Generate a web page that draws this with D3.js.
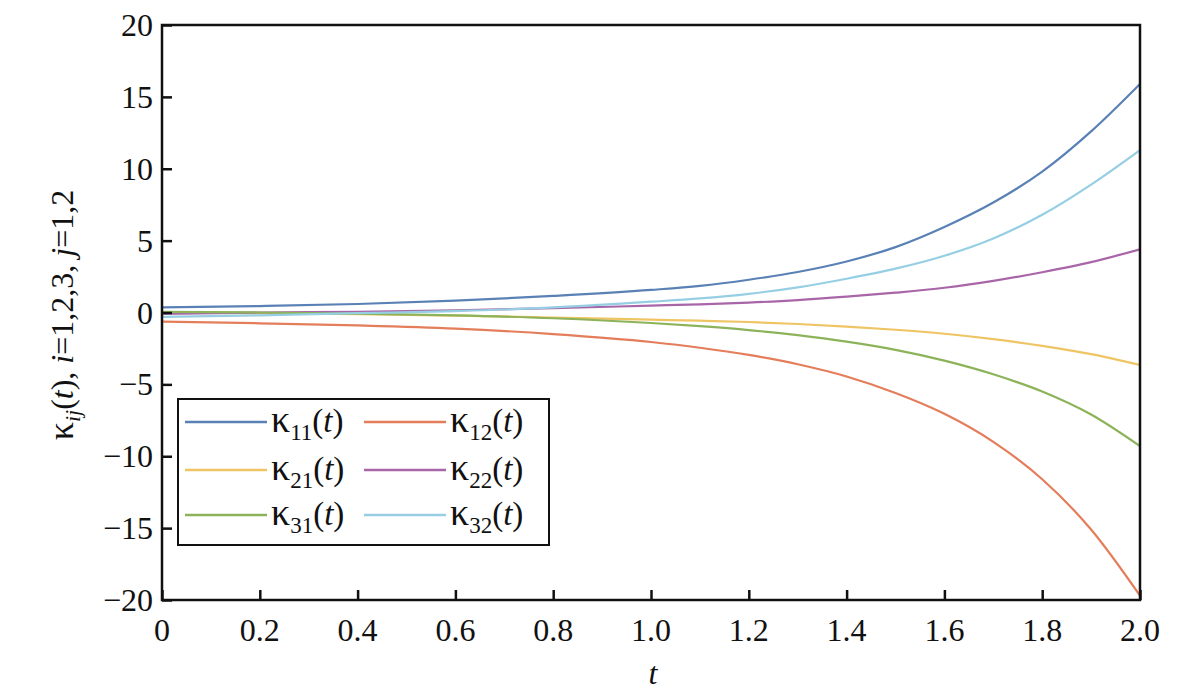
<html>
<head>
<meta charset="utf-8">
<script src="https://d3js.org/d3.v7.min.js"></script>
<style>
  body { margin: 0; background: #fff; }
</style>
</head>
<body>
<svg id="chart" width="1200" height="690"></svg>
<script>
// data
const tValues = [0, 0.2, 0.4, 0.6, 0.8, 1.0, 1.1, 1.2, 1.3, 1.4, 1.5, 1.6, 1.7, 1.8, 1.9, 2.0];
const k11 = [0.35, 0.45, 0.59, 0.82, 1.15, 1.57, 1.85, 2.28, 2.82, 3.55, 4.55, 5.95, 7.65, 9.8, 12.6, 15.9];
const k12 = [-0.64, -0.75, -0.9, -1.12, -1.5, -2.05, -2.45, -2.95, -3.6, -4.45, -5.6, -7.05, -9.0, -11.6, -15.1, -19.7];
const k21 = [0.0, -0.05, -0.12, -0.22, -0.35, -0.5, -0.57, -0.66, -0.8, -0.98, -1.2, -1.48, -1.85, -2.32, -2.9, -3.65];
const k22 = [-0.1, 0.0, 0.05, 0.15, 0.3, 0.48, 0.57, 0.69, 0.86, 1.1, 1.38, 1.72, 2.2, 2.8, 3.5, 4.4];
const k31 = [0.05, 0.0, -0.08, -0.2, -0.4, -0.73, -0.95, -1.22, -1.58, -2.03, -2.6, -3.35, -4.3, -5.5, -7.1, -9.3];
const k32 = [-0.3, -0.2, -0.05, 0.1, 0.35, 0.75, 0.98, 1.3, 1.75, 2.35, 3.05, 3.95, 5.15, 6.8, 8.9, 11.3];

const seriesNames = ["11", "12", "21", "22", "31", "32"];
const seriesColors = ["#5a81b5", "#e47d5a", "#efc463", "#a866a8", "#8db35a", "#96cfe3"];
const xTicks = [0, 0.2, 0.4, 0.6, 0.8, 1.0, 1.2, 1.4, 1.6, 1.8, 2.0];
const yTicks = [-20, -15, -10, -5, 0, 5, 10, 15, 20];

const allSeries = [k11, k12, k21, k22, k31, k32];

const serif = "'Liberation Serif', 'Times New Roman', Times, 'DejaVu Serif', serif";
const svg = d3.select("#chart")
  .attr("font-family", serif)
  .style("font-family", serif);
const plotLeft = 162, plotRight = 1140, plotTop = 25, plotBottom = 600;

const x = d3.scaleLinear().domain([0, 2]).range([plotLeft, plotRight]);
const y = d3.scaleLinear().domain([-20, 20]).range([plotBottom, plotTop]);

// curves
const line = d3.line()
  .x((d, i) => x(tValues[i]))
  .y(d => y(d))
  .curve(d3.curveMonotoneX);

const plot = svg.append("g");
plot.append("clipPath").attr("id", "clip")
  .append("rect").attr("x", plotLeft).attr("y", plotTop)
  .attr("width", plotRight - plotLeft).attr("height", plotBottom - plotTop);

allSeries.forEach((s, i) => {
  plot.append("path")
    .datum(s)
    .attr("clip-path", "url(#clip)")
    .attr("fill", "none")
    .attr("stroke", seriesColors[i])
    .attr("stroke-width", 2.2)
    .attr("d", line);
});

// axes (ticks pointing inward)
const xAxis = d3.axisTop(x).tickValues(xTicks).tickSize(10).tickFormat("");
svg.append("g")
  .attr("transform", `translate(0,${plotBottom})`)
  .call(xAxis)
  .call(g => g.select(".domain").remove())
  .call(g => g.selectAll("line").attr("stroke", "#111").attr("stroke-width", 2.5));

const yAxis = d3.axisRight(y).tickValues(yTicks).tickSize(10).tickFormat("");
svg.append("g")
  .attr("transform", `translate(${plotLeft},0)`)
  .call(yAxis)
  .call(g => g.select(".domain").remove())
  .call(g => g.selectAll("line").attr("stroke", "#111").attr("stroke-width", 2.5));

// frame
svg.append("rect")
  .attr("x", plotLeft).attr("y", plotTop)
  .attr("width", plotRight - plotLeft).attr("height", plotBottom - plotTop)
  .attr("fill", "none").attr("stroke", "#111").attr("stroke-width", 2.5);

// tick labels
svg.append("g").selectAll("text")
  .data(xTicks)
  .join("text")
  .attr("x", d => x(d))
  .attr("y", 641)
  .attr("text-anchor", "middle")
  .attr("font-size", 32)
  .attr("fill", "#111")
  .text(d => d === 0 ? "0" : d.toFixed(1));

svg.append("g").selectAll("text")
  .data(yTicks)
  .join("text")
  .attr("x", 153)
  .attr("y", d => y(d) + 11)
  .attr("text-anchor", "end")
  .attr("font-size", 32)
  .attr("fill", "#111")
  .text(d => d < 0 ? "\u2212" + Math.abs(d) : d);

// axis titles
svg.append("text")
  .attr("x", 653).attr("y", 684)
  .attr("text-anchor", "middle")
  .attr("font-size", 32)
  .attr("font-style", "italic")
  .attr("fill", "#111")
  .text("t");

const yTitle = svg.append("text")
  .attr("transform", "translate(73,315) rotate(-90)")
  .attr("text-anchor", "middle")
  .attr("font-size", 32)
  .attr("fill", "#111");
yTitle.append("tspan").attr("font-size", 36).text("\u03ba");
yTitle.append("tspan").attr("font-style", "italic").attr("font-size", 22).attr("dy", 7).text("ij");
yTitle.append("tspan").attr("dy", -7).text("(");
yTitle.append("tspan").attr("font-style", "italic").text("t");
yTitle.append("tspan").text("), ");
yTitle.append("tspan").attr("font-style", "italic").text("i");
yTitle.append("tspan").text("=1,2,3, ");
yTitle.append("tspan").attr("font-style", "italic").text("j");
yTitle.append("tspan").text("=1,2");

// legend
const legend = svg.append("g");
legend.append("rect")
  .attr("x", 178).attr("y", 399)
  .attr("width", 371).attr("height", 146)
  .attr("fill", "#fff").attr("stroke", "#111").attr("stroke-width", 2);

const rowY = [422, 470, 515];
const colX = [185, 364];
seriesNames.forEach((name, i) => {
  const cx = colX[i % 2];
  const cy = rowY[Math.floor(i / 2)];
  legend.append("line")
    .attr("x1", cx).attr("x2", cx + 82)
    .attr("y1", cy).attr("y2", cy)
    .attr("stroke", seriesColors[i]).attr("stroke-width", 2.5);
  const t = legend.append("text")
    .attr("x", cx + 86).attr("y", cy + 10)
    .attr("font-size", 33)
    .attr("fill", "#111");
  t.append("tspan").attr("font-size", 38).text("\u03ba");
  t.append("tspan").attr("font-size", 23).attr("dy", 8).text(name);
  t.append("tspan").attr("dy", -8).text("(");
  t.append("tspan").attr("font-style", "italic").text("t");
  t.append("tspan").text(")");
});
</script>
</body>
</html>
